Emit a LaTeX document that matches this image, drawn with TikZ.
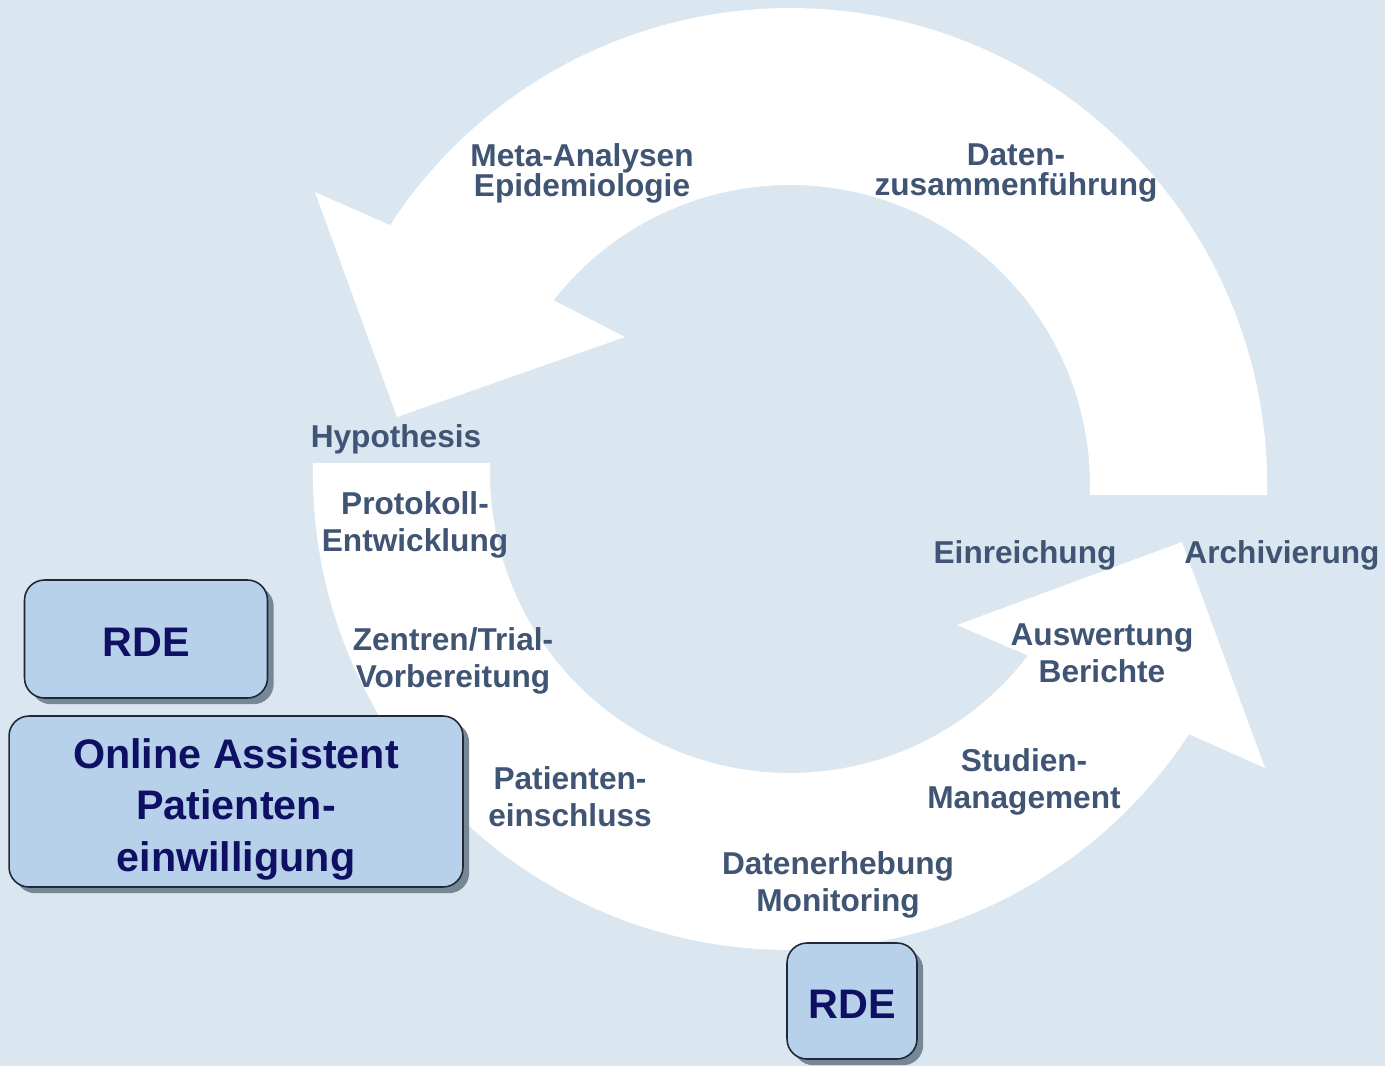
\documentclass[tikz,border=0pt]{standalone}
\usepackage{fontspec}
\setmainfont{Liberation Sans}
\usetikzlibrary{shadows}
\definecolor{hgblau}{RGB}{218,230,240}
\definecolor{schrift}{RGB}{64,84,115}
\definecolor{kastenblau}{RGB}{184,209,234}
\definecolor{kastenrand}{RGB}{30,40,55}
\definecolor{kastentext}{RGB}{15,15,100}
\definecolor{schatten}{RGB}{120,135,150}
\begin{document}
\begin{tikzpicture}[x=0.02cm, y=0.02cm,
    phase/.style={text=schrift, font=\bfseries\fontsize{18}{21}\selectfont, align=center, inner sep=0pt},
    phaseeng/.style={phase, font=\bfseries\fontsize{18}{17}\selectfont},
    kasten/.style={rectangle, draw=kastenrand, line width=0.9pt, fill=kastenblau, rounded corners=0.4cm, text=kastentext, font=\bfseries\fontsize{23.5}{29.5}\selectfont, align=center, drop shadow={shadow xshift=3.5pt, shadow yshift=-3.5pt, fill=schatten, opacity=1}},
    pfeil/.style={fill=white, draw=none}
]
    \fill[hgblau] (0,0) rectangle (1385,-1066);
    \useasboundingbox (0,0) rectangle (1385,-1066);

    % Kreislauf aus zwei Pfeilen
    \path[pfeil] (1267,-495) arc[start angle=-1.2, end angle=147, radius=477] -- (315,-192) -- (397,-417) -- (625,-337) -- (553.6,-300.3) arc[start angle=142, end angle=-1.9, radius=300] -- cycle;
    \path[pfeil] (313,-463) arc[start angle=178.8, end angle=326.8, radius=477] -- (1265,-768) -- (1182,-542) -- (957,-625) -- (1028,-655.6) arc[start angle=322.5, end angle=178.1, radius=300] -- cycle;

    \node[phaseeng] (meta) at (582,-173) {Meta-Analysen\\Epidemiologie};
    \node[phaseeng] (zusammen) at (1016,-173) {Daten-\\zusammenführung};
    \node[phase] (hypo) at (396,-439) {Hypothesis};
    \node[phase] (protokoll) at (415,-525) {Protokoll-\\Entwicklung};
    \node[phase] (zentren) at (453,-661) {Zentren/Trial-\\Vorbereitung};
    \node[phase] (einschluss) at (570,-797) {Patienten-\\einschluss};
    \node[phase] (erhebung) at (838,-885) {Datenerhebung\\Monitoring};
    \node[phase] (studien) at (1024,-782) {Studien-\\Management};
    \node[phase] (auswertung) at (1102,-653) {Auswertung\\Berichte};
    \node[phase] (einreichung) at (1025,-555) {Einreichung};
    \node[phase] (archiv) at (1282,-555) {Archivierung};

    \node[kasten, minimum width=4.86cm, minimum height=2.36cm] (rdeoben) at (146,-639) {\rule{0pt}{20pt}RDE};
    \node[kasten, minimum width=9.08cm, minimum height=3.42cm] (assistent) at (236,-801.5) {\rule{0pt}{26pt}Online Assistent\\Patienten-\\einwilligung};
    \node[kasten, minimum width=2.6cm, minimum height=2.32cm] (rdeunten) at (852,-1001) {\rule{0pt}{20pt}RDE};
\end{tikzpicture}
\end{document}
